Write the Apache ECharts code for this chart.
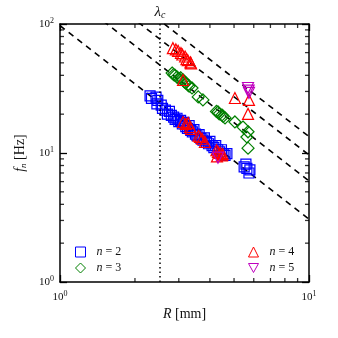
<!DOCTYPE html>
<html>
<head>
<meta charset="utf-8">
<script src="https://cdn.jsdelivr.net/npm/echarts@6/dist/echarts.min.js"></script>
<style>
    html, body { margin: 0; padding: 0; background: #fff; }
    #chart { width: 338px; height: 338px; }
</style>
</head>
<body>
<div id="chart"></div>
<script>
// 数据：R [mm], f_n [Hz]
const modeN2 = [
    [2.30, 27.7], [2.33, 26.5], [2.43, 27.1], [2.47, 25.6], [2.45, 24.0], [2.55, 23.5],
    [2.58, 22.2], [2.65, 21.5], [2.70, 20.0], [2.75, 21.0], [2.80, 19.6], [2.86, 19.0],
    [2.90, 18.2], [2.95, 18.6], [3.00, 17.5], [3.05, 17.9], [3.10, 16.8], [3.15, 17.3],
    [3.20, 16.0], [3.25, 15.5], [3.30, 16.3], [3.35, 15.0], [3.40, 14.6], [3.45, 15.2],
    [3.50, 14.0], [3.55, 13.6], [3.62, 13.9], [3.68, 13.0], [3.75, 12.6], [3.80, 13.1],
    [3.88, 12.1], [3.95, 11.8], [4.00, 12.3], [4.08, 11.4], [4.15, 11.0], [4.22, 11.4],
    [4.30, 10.6], [4.38, 10.2], [4.45, 10.6], [4.52, 9.9], [4.60, 9.6], [4.68, 9.9],
    [5.49, 7.8], [5.58, 8.2], [5.63, 7.6], [5.74, 7.0], [5.79, 7.4]
];
const modeN3 = [
    [2.82, 41.7], [2.86, 40.5], [2.90, 40.0], [2.95, 38.8], [3.00, 37.8], [3.05, 38.3],
    [3.12, 36.8], [3.16, 35.5], [3.20, 35.0], [3.26, 33.7], [3.30, 33.0], [3.39, 31.9],
    [3.59, 27.2], [3.75, 25.8], [4.25, 21.0], [4.31, 20.8], [4.36, 20.1], [4.47, 19.7],
    [4.52, 19.2], [4.60, 18.7], [5.04, 17.4], [5.43, 15.9], [5.69, 14.6], [5.63, 13.3],
    [5.69, 10.9]
];
const modeN4 = [
    [2.84, 65.0], [2.92, 63.5], [2.98, 62.0], [3.06, 59.6], [3.10, 58.0], [3.18, 56.0],
    [3.22, 53.5], [3.26, 52.4], [3.34, 50.5], [3.36, 49.5], [3.12, 36.8],
    [3.12, 17.4], [3.20, 16.8], [3.27, 17.1], [3.33, 15.9], [3.36, 15.4], [3.60, 13.6],
    [3.65, 13.3], [3.72, 12.9], [3.82, 12.2], [4.25, 10.5], [4.31, 10.2], [4.40, 10.0],
    [4.47, 9.6], [4.27, 9.4], [4.50, 9.8],
    [5.04, 26.7], [5.74, 25.8], [5.69, 20.1]
];
const modeN5 = [
    [5.69, 31.9], [5.74, 29.2], [5.72, 30.5], [4.31, 9.2]
];

// 虚线：R = 1 与 R = 10 处的频率
const lineAtR1 = [97, 192, 305, 425];
const lineAtR10 = [3.07, 6.07, 9.65, 13.4];

// λc 位置
const lambdaC = 2.52;

// 对数轴的次刻度
const xMinorTicks = [2, 3, 4, 5, 6, 7, 8, 9];
const yMinorTicks = [2, 3, 4, 5, 6, 7, 8, 9, 20, 30, 40, 50, 60, 70, 80, 90];

const serif = 'Liberation Serif';

const chart = echarts.init(document.getElementById('chart'));

const powLabel = function (v) {
    return '10{s|' + Math.round(Math.log10(v)) + '}';
};
const powRich = {
    s: { fontSize: 8, verticalAlign: 'top', padding: [0, 0, 6, 0], fontFamily: serif, color: '#111' }
};

const dashSeries = lineAtR1.map((a, i) => ({
    type: 'line',
    data: [[1, a], [10, lineAtR10[i]]],
    symbol: 'none',
    silent: true,
    clip: true,
    lineStyle: { color: '#000', width: 1.6, type: [6, 5] },
    z: 1
}));

// 次刻度：用细矩形标记画在四条边上（向内）
const tickLen = 4;
const tickW = 1.3;
function tickSeries(data, size, offset) {
    return {
        type: 'scatter',
        data: data,
        symbol: 'rect',
        symbolSize: size,
        symbolOffset: offset,
        clip: false,
        silent: true,
        itemStyle: { color: '#000' },
        z: 10
    };
}
const minorSeries = [
    tickSeries(xMinorTicks.map(v => [v, 1]), [tickW, tickLen], [0, -tickLen / 2]),
    tickSeries(xMinorTicks.map(v => [v, 100]), [tickW, tickLen], [0, tickLen / 2]),
    tickSeries(yMinorTicks.map(v => [1, v]), [tickLen, tickW], [tickLen / 2, 0]),
    tickSeries(yMinorTicks.map(v => [10, v]), [tickLen, tickW], [-tickLen / 2, 0])
];

const majorTick = { inside: true, length: 7, lineStyle: { color: '#000', width: 1.3 } };

const legendRich = {
    g: { width: 6 },
    i: { fontStyle: 'italic', fontFamily: serif, fontSize: 12, color: '#111' },
    t: { fontFamily: serif, fontSize: 12, color: '#111' }
};
const legendFormatter = function (name) {
    return '{g|}{i|n}{t| = ' + name.slice(-1) + '}';
};
const legendItemStyle = { color: 'rgba(0,0,0,0)', borderWidth: 1 };

const option = {
    animation: false,
    backgroundColor: '#fff',
    grid: { left: 60, right: 29, top: 24, bottom: 56 },
    xAxis: [{
        type: 'log',
        min: 1,
        max: 10,
        name: '{i|R} [mm]',
        nameLocation: 'middle',
        nameGap: 22,
        nameTextStyle: {
            fontFamily: serif, fontSize: 14, color: '#111',
            rich: { i: { fontStyle: 'italic', fontFamily: serif, fontSize: 14, color: '#111' } }
        },
        axisLine: { lineStyle: { color: '#000', width: 1.5 } },
        axisTick: majorTick,
        axisLabel: {
            formatter: powLabel, rich: powRich, margin: 8,
            fontFamily: serif, fontSize: 11, color: '#111'
        },
        splitLine: { show: false }
    }, {
        type: 'log',
        min: 1,
        max: 10,
        position: 'top',
        axisLine: { lineStyle: { color: '#000', width: 1.5 } },
        axisTick: majorTick,
        axisLabel: { show: false },
        splitLine: { show: false }
    }],
    yAxis: [{
        type: 'log',
        min: 1,
        max: 100,
        name: '{i|f}{sub|n} [Hz]',
        nameLocation: 'middle',
        nameGap: 30,
        nameTextStyle: {
            fontFamily: serif, fontSize: 14, color: '#111',
            rich: {
                i: { fontStyle: 'italic', fontFamily: serif, fontSize: 14, color: '#111' },
                sub: { fontStyle: 'italic', fontFamily: serif, fontSize: 9, verticalAlign: 'bottom', padding: [6, 0, 0, 0], color: '#111' }
            }
        },
        axisLine: { lineStyle: { color: '#000', width: 1.5 } },
        axisTick: majorTick,
        axisLabel: {
            formatter: powLabel, rich: powRich, margin: 6,
            fontFamily: serif, fontSize: 11, color: '#111'
        },
        splitLine: { show: false }
    }, {
        type: 'log',
        min: 1,
        max: 100,
        position: 'right',
        axisLine: { lineStyle: { color: '#000', width: 1.5 } },
        axisTick: majorTick,
        axisLabel: { show: false },
        splitLine: { show: false }
    }],
    legend: [{
        orient: 'vertical',
        left: 70,
        top: 241,
        itemWidth: 10,
        itemHeight: 10,
        itemGap: 4,
        data: ['n = 2', 'n = 3'],
        formatter: legendFormatter,
        itemStyle: legendItemStyle,
        textStyle: { rich: legendRich }
    }, {
        orient: 'vertical',
        left: 243,
        top: 241,
        itemWidth: 10,
        itemHeight: 10,
        itemGap: 4,
        data: ['n = 4', { name: 'n = 5', icon: 'path://M0,0 L10,0 L5,9 Z' }],
        formatter: legendFormatter,
        itemStyle: legendItemStyle,
        textStyle: { rich: legendRich }
    }],
    series: dashSeries.concat([{
        name: 'n = 2',
        type: 'scatter',
        data: modeN2,
        symbol: 'rect',
        symbolSize: 10,
        itemStyle: { color: 'rgba(0,0,0,0)', borderColor: '#0000ff', borderWidth: 1.2, opacity: 1 },
        z: 3,
        markLine: {
            silent: true,
            symbol: 'none',
            lineStyle: { color: '#000', width: 1.5, type: [1.5, 3] },
            label: {
                show: true,
                position: 'end',
                distance: 4,
                formatter: '{i|λ}{sub|c}',
                rich: {
                    i: { fontStyle: 'italic', fontFamily: serif, fontSize: 15, color: '#111' },
                    sub: { fontStyle: 'italic', fontFamily: serif, fontSize: 10, verticalAlign: 'bottom', padding: [6, 0, 0, 0], color: '#111' }
                }
            },
            data: [{ xAxis: lambdaC }]
        }
    }, {
        name: 'n = 3',
        type: 'scatter',
        data: modeN3,
        symbol: 'diamond',
        symbolSize: 12,
        itemStyle: { color: 'rgba(0,0,0,0)', borderColor: '#008000', borderWidth: 1.2, opacity: 1 },
        z: 4
    }, {
        name: 'n = 4',
        type: 'scatter',
        data: modeN4,
        symbol: 'triangle',
        symbolSize: 11,
        itemStyle: { color: 'rgba(0,0,0,0)', borderColor: '#ff0000', borderWidth: 1.2, opacity: 1 },
        z: 5
    }, {
        name: 'n = 5',
        type: 'scatter',
        data: modeN5,
        symbol: 'triangle',
        symbolRotate: 180,
        symbolSize: 11,
        itemStyle: { color: 'rgba(0,0,0,0)', borderColor: '#bf00bf', borderWidth: 1.2, opacity: 1 },
        z: 6
    }]).concat(minorSeries)
};

chart.setOption(option);

window.addEventListener('resize', function () {
    chart.resize();
});
</script>
</body>
</html>
